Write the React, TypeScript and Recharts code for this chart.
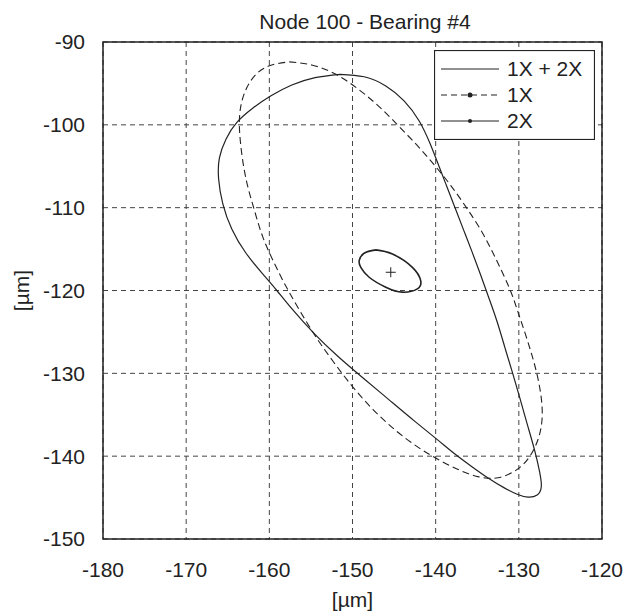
import React from 'react';
import {
    ComposedChart,
    Line,
    XAxis,
    YAxis,
    CartesianGrid,
    ReferenceArea,
} from 'recharts';

// orbit traces, [x, y] in µm (clockwise from the top)
const orbit1x2x: [number, number][] = [
    [-151.5, -93.9], [-148.6, -94.2], [-146.0, -95.3], [-143.8, -97.1], [-142.0, -99.5],
    [-140.7, -102.2], [-139.6, -105.0], [-138.6, -107.6], [-137.6, -110.2], [-136.6, -112.8],
    [-135.6, -115.4], [-134.6, -118.1], [-133.6, -120.9], [-132.6, -123.8], [-131.7, -126.8],
    [-130.8, -129.8], [-129.9, -132.9], [-129.0, -136.1], [-128.1, -139.3], [-127.5, -141.9],
    [-127.3, -143.7], [-127.8, -144.7], [-128.9, -144.95], [-130.2, -144.6], [-131.8, -143.8],
    [-133.6, -142.7], [-135.6, -141.3], [-137.6, -139.8], [-139.8, -138.0], [-142.5, -135.8],
    [-145.6, -133.2], [-148.8, -130.5], [-151.8, -127.9], [-154.6, -125.2], [-157.3, -122.2],
    [-159.1, -120.0], [-160.8, -118.0], [-162.8, -115.5], [-164.5, -112.6], [-165.6, -109.5],
    [-166.1, -106.5], [-166.0, -104.0], [-165.2, -101.7], [-163.9, -99.7], [-162.0, -98.0],
    [-159.8, -96.5], [-157.3, -95.2], [-154.5, -94.3], [-151.5, -93.9],
];

const orbit1x: [number, number][] = [
    [-157.6, -92.4], [-154.8, -92.8], [-152.0, -93.9], [-149.3, -95.7], [-146.8, -97.8],
    [-144.5, -100.1], [-142.3, -102.4], [-140.2, -104.8], [-138.2, -107.3], [-136.3, -110.0],
    [-134.4, -113.0], [-132.7, -116.3], [-131.1, -119.8], [-130.1, -122.6], [-129.2, -125.3],
    [-128.4, -127.9], [-127.75, -130.4], [-127.3, -133.0], [-127.2, -135.4], [-127.6, -137.7],
    [-128.6, -139.9], [-130.2, -141.6], [-132.5, -142.6], [-134.8, -142.5], [-137.1, -141.7],
    [-139.5, -140.5], [-142.0, -139.0], [-144.8, -136.9], [-147.5, -134.4], [-150.0, -131.6],
    [-152.3, -128.6], [-154.4, -125.6], [-156.3, -122.5], [-158.0, -119.5], [-159.5, -116.5],
    [-160.8, -113.5], [-161.8, -110.3], [-162.7, -107.0], [-163.3, -103.6], [-163.6, -100.2],
    [-163.4, -97.6], [-162.7, -95.5], [-161.5, -93.8], [-159.8, -92.8], [-157.6, -92.4],
];

const orbit2x: [number, number][] = [
    [-147.2, -115.1], [-145.2, -115.6], [-142.8, -117.2], [-141.8, -118.8], [-142.2, -119.8],
    [-144.0, -120.2], [-146.0, -119.6], [-148.0, -118.4], [-149.0, -117.2], [-149.2, -116.4],
    [-148.6, -115.5], [-147.2, -115.1],
];

const orbitCenter: [number, number][] = [[-145.4, -117.8]];

const xTicks = [-180, -170, -160, -150, -140, -130, -120];
const yTicks = [-150, -140, -130, -120, -110, -100, -90];
const legendNames = ['1X + 2X', '1X', '2X'];

const toRows = (pts: [number, number][]) => pts.map(([x, y]) => ({ x, y }));

const FONT = '"Liberation Sans", Arial, sans-serif';
const INK = '#222';
const FS = 21;

const renderCross = (props: any) => {
    const { cx, cy, index } = props;
    return (
        <path
            key={'c-' + index}
            d={`M${cx - 5},${cy}H${cx + 5}M${cx},${cy - 5}V${cy + 5}`}
            stroke={INK}
            strokeWidth={1}
        />
    );
};

function LegendBox() {
    const rows = [19, 45, 71];
    return (
        <svg width={161} height={90} style={{ display: 'block' }}>
            <rect x={0.5} y={0.5} width={160} height={89} fill="#fff" stroke={INK} strokeWidth={1.2} />
            {legendNames.map((name, i) => (
                <g key={name}>
                    <line
                        x1={7}
                        x2={65}
                        y1={rows[i]}
                        y2={rows[i]}
                        stroke={INK}
                        strokeWidth={1.1}
                        strokeDasharray={i === 1 ? '6 4' : undefined}
                    />
                    {i > 0 && <circle cx={36} cy={rows[i]} r={i === 1 ? 2.5 : 2} fill={INK} />}
                    <text x={73} y={rows[i]} dy="0.35em" fontSize={FS} fontFamily={FONT} fill={INK}>
                        {name}
                    </text>
                </g>
            ))}
        </svg>
    );
}

export default function App() {
    return (
        <div style={{ position: 'absolute', left: 0, top: 0, width: 624, height: 612, background: '#fff' }}>
            <ComposedChart width={624} height={612} margin={{ top: 42, right: 22, bottom: 0, left: 0 }}>
                <CartesianGrid stroke="#444" strokeDasharray="5 4" strokeWidth={1} />
                <XAxis
                    type="number"
                    dataKey="x"
                    domain={[-180, -120]}
                    ticks={xTicks}
                    allowDataOverflow
                    height={73}
                    axisLine={false}
                    tickLine={false}
                    tickMargin={17}
                    tick={{ fontSize: FS, fontFamily: FONT, fill: INK }}
                    label={{
                        value: '[µm]',
                        position: 'insideBottom',
                        offset: 5,
                        style: { fontSize: FS, fontFamily: FONT, fill: INK },
                    }}
                />
                <YAxis
                    type="number"
                    dataKey="y"
                    domain={[-150, -90]}
                    ticks={yTicks}
                    allowDataOverflow
                    width={103}
                    axisLine={false}
                    tickLine={false}
                    tickMargin={12}
                    tick={{ fontSize: FS, fontFamily: FONT, fill: INK }}
                    label={{
                        value: '[µm]',
                        angle: -90,
                        position: 'insideLeft',
                        offset: 22,
                        style: { fontSize: FS, fontFamily: FONT, fill: INK, textAnchor: 'middle' },
                    }}
                />
                <ReferenceArea
                    x1={-180}
                    x2={-120}
                    y1={-150}
                    y2={-90}
                    fill="none"
                    stroke={INK}
                    strokeWidth={1.5}
                    ifOverflow="visible"
                />
                <Line
                    data={toRows(orbit1x)}
                    dataKey="y"
                    type="natural"
                    stroke={INK}
                    strokeWidth={1.1}
                    strokeDasharray="7 4"
                    dot={false}
                    activeDot={false}
                    isAnimationActive={false}
                />
                <Line
                    data={toRows(orbit1x2x)}
                    dataKey="y"
                    type="natural"
                    stroke={INK}
                    strokeWidth={1.2}
                    dot={false}
                    activeDot={false}
                    isAnimationActive={false}
                />
                <Line
                    data={toRows(orbit2x)}
                    dataKey="y"
                    type="natural"
                    stroke={INK}
                    strokeWidth={1.6}
                    dot={false}
                    activeDot={false}
                    isAnimationActive={false}
                />
                <Line
                    data={toRows(orbitCenter)}
                    dataKey="y"
                    stroke="none"
                    dot={renderCross}
                    activeDot={false}
                    isAnimationActive={false}
                />
            </ComposedChart>
            <div
                style={{
                    position: 'absolute',
                    left: 165,
                    width: 400,
                    top: 9,
                    textAlign: 'center',
                    whiteSpace: 'nowrap',
                    fontFamily: FONT,
                    fontSize: FS,
                    color: INK,
                    lineHeight: '26px',
                }}
            >
                Node 100 - Bearing #4
            </div>
            <div style={{ position: 'absolute', left: 434, top: 50 }}>
                <LegendBox />
            </div>
        </div>
    );
}
